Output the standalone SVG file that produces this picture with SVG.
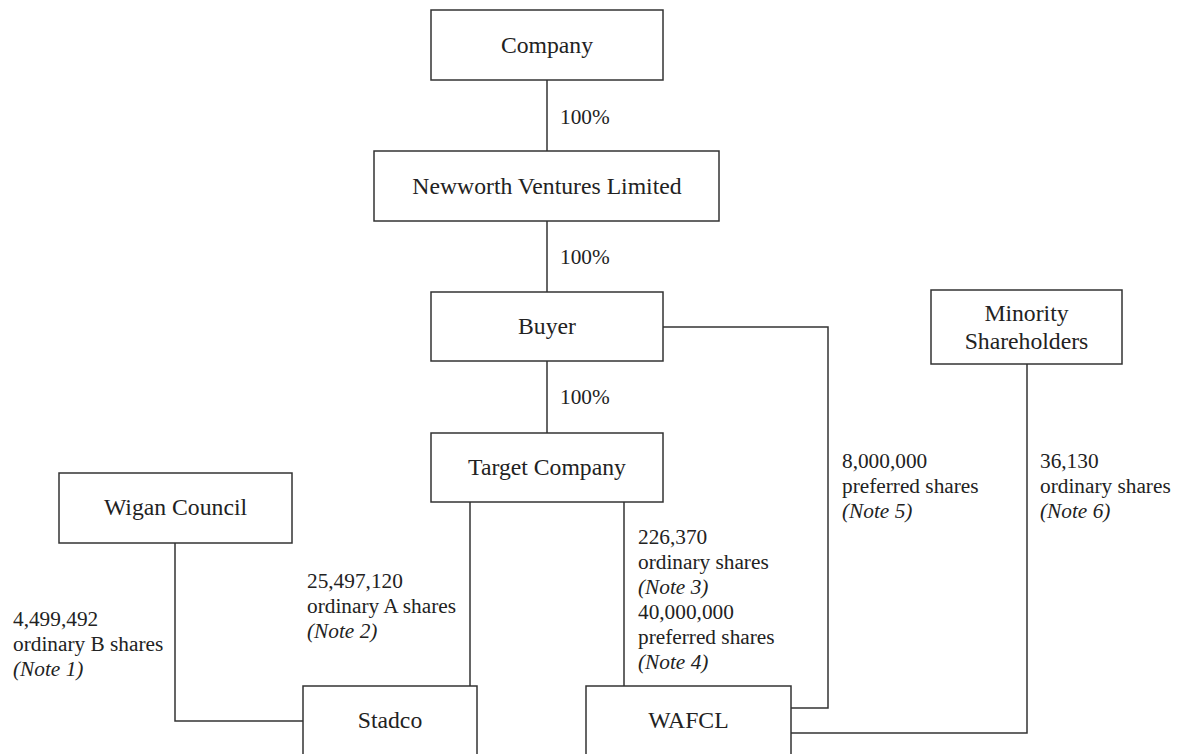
<svg xmlns="http://www.w3.org/2000/svg" width="1177" height="754" viewBox="0 0 1177 754">
<style>
.box{fill:#fff;stroke:#333;stroke-width:1.5}
.ln{fill:none;stroke:#333;stroke-width:1.5}
.t{font-family:"Liberation Serif","Times New Roman",serif;font-size:23.7px;fill:#222;text-anchor:middle}
.l{font-family:"Liberation Serif","Times New Roman",serif;font-size:21.3px;fill:#222}
.i{font-style:italic}
</style>
<rect width="1177" height="754" fill="#fff"/>
<g id="connectors">
<path class="ln" d="M547,80V151"/>
<path class="ln" d="M547,221V292"/>
<path class="ln" d="M547,361V433"/>
<path class="ln" d="M663,327H828V708H791"/>
<path class="ln" d="M1027,364V733H791"/>
<path class="ln" d="M175,543V721H303"/>
<path class="ln" d="M470,502V686"/>
<path class="ln" d="M624,502V686"/>
</g>
<g id="labels">
<text class="l" x="560" y="124">100%</text>
<text class="l" x="560" y="264">100%</text>
<text class="l" x="560" y="404">100%</text>
<text class="l" x="13" y="626">4,499,492</text>
<text class="l" x="13" y="651">ordinary B shares</text>
<text class="l i" x="13" y="676">(Note 1)</text>
<text class="l" x="307" y="588">25,497,120</text>
<text class="l" x="307" y="613">ordinary A shares</text>
<text class="l i" x="307" y="638">(Note 2)</text>
<text class="l" x="638" y="544">226,370</text>
<text class="l" x="638" y="569">ordinary shares</text>
<text class="l i" x="638" y="594">(Note 3)</text>
<text class="l" x="638" y="619">40,000,000</text>
<text class="l" x="638" y="644">preferred shares</text>
<text class="l i" x="638" y="669">(Note 4)</text>
<text class="l" x="842" y="468">8,000,000</text>
<text class="l" x="842" y="493">preferred shares</text>
<text class="l i" x="842" y="518">(Note 5)</text>
<text class="l" x="1040" y="468">36,130</text>
<text class="l" x="1040" y="493">ordinary shares</text>
<text class="l i" x="1040" y="518">(Note 6)</text>
</g>
<g id="company"><rect class="box" x="431" y="10" width="232" height="70"/><text class="t" x="547" y="53">Company</text></g>
<g id="newworth"><rect class="box" x="374" y="151" width="345" height="70"/><text class="t" x="547" y="194">Newworth Ventures Limited</text></g>
<g id="buyer"><rect class="box" x="431" y="292" width="232" height="69"/><text class="t" x="547" y="334">Buyer</text></g>
<g id="target"><rect class="box" x="431" y="433" width="232" height="69"/><text class="t" x="547" y="475">Target Company</text></g>
<g id="minority"><rect class="box" x="931" y="290" width="191" height="74"/><text class="t" x="1026.5" y="321">Minority</text><text class="t" x="1026.5" y="349">Shareholders</text></g>
<g id="wigan"><rect class="box" x="59" y="473" width="233" height="70"/><text class="t" x="175.5" y="515">Wigan Council</text></g>
<g id="stadco"><rect class="box" x="303" y="686" width="174" height="80"/><text class="t" x="390" y="728">Stadco</text></g>
<g id="wafcl"><rect class="box" x="586" y="686" width="205" height="80"/><text class="t" x="688.5" y="728">WAFCL</text></g>
</svg>
